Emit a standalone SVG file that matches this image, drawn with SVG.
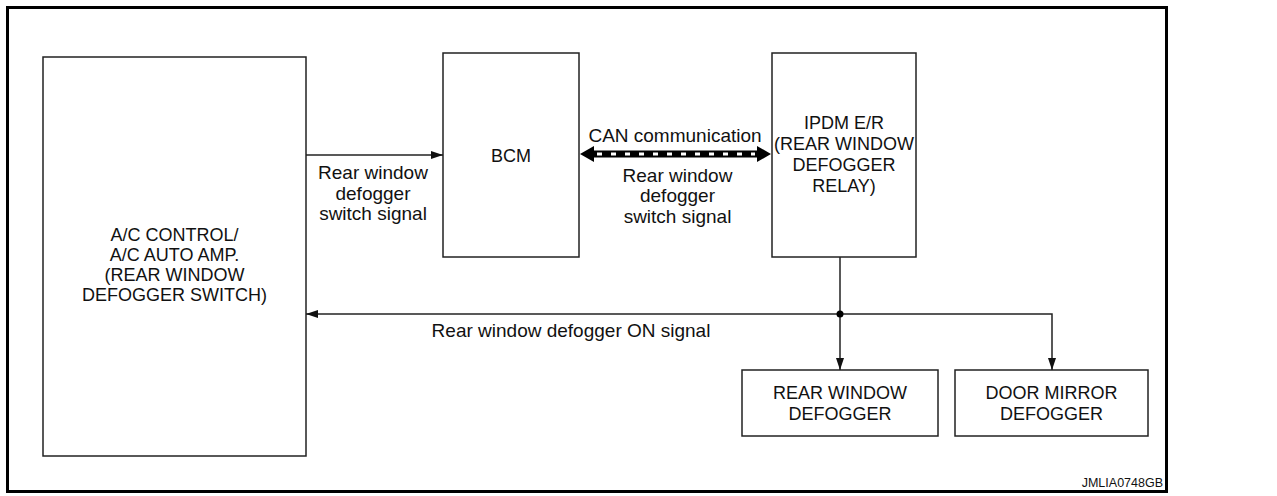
<svg xmlns="http://www.w3.org/2000/svg" width="1277" height="496" viewBox="0 0 1277 496">
<style>
.box{fill:#fff;stroke:#222;stroke-width:1.5}
.up{font-family:"Liberation Sans",Arial,sans-serif;font-size:18px;fill:#111;text-anchor:middle}
.lo{font-family:"Liberation Sans",Arial,sans-serif;font-size:19px;fill:#111;text-anchor:middle}
.wire{fill:none;stroke:#222;stroke-width:1.5}
</style>
<defs>
<marker id="arr" viewBox="0 0 12 8" refX="12" refY="4" markerWidth="12" markerHeight="8" markerUnits="userSpaceOnUse" orient="auto">
<path d="M0,0 L12,4 L0,8 z" fill="#111"/>
</marker>
</defs>
<rect x="0" y="0" width="1277" height="496" fill="#fff"/>
<rect id="frame" x="7.5" y="7.5" width="1159" height="484" fill="none" stroke="#000" stroke-width="3"/>
<g id="ac">
<rect class="box" x="43" y="57" width="263" height="399"/>
<text class="up" x="174.5" y="241">A/C CONTROL/</text>
<text class="up" x="174.5" y="261">A/C AUTO AMP.</text>
<text class="up" x="174.5" y="281">(REAR WINDOW</text>
<text class="up" x="174.5" y="301">DEFOGGER SWITCH)</text>
</g>
<g id="bcm">
<rect class="box" x="443" y="53" width="136" height="204"/>
<text class="up" x="511" y="162">BCM</text>
</g>
<g id="ipdm">
<rect class="box" x="772" y="53" width="144" height="204"/>
<text class="up" x="844" y="129">IPDM E/R</text>
<text class="up" x="844" y="150">(REAR WINDOW</text>
<text class="up" x="844" y="171">DEFOGGER</text>
<text class="up" x="844" y="192">RELAY)</text>
</g>
<g id="rwd">
<rect class="box" x="742" y="370" width="196" height="66"/>
<text class="up" x="840" y="399">REAR WINDOW</text>
<text class="up" x="840" y="420">DEFOGGER</text>
</g>
<g id="dmd">
<rect class="box" x="955" y="370" width="193" height="66"/>
<text class="up" x="1051.5" y="399">DOOR MIRROR</text>
<text class="up" x="1051.5" y="420">DEFOGGER</text>
</g>
<g id="connectors">
<line class="wire" x1="306" y1="155" x2="443" y2="155" marker-end="url(#arr)"/>
<line x1="592" y1="154" x2="759" y2="154" stroke="#000" stroke-width="7"/>
<line x1="597" y1="154" x2="755" y2="154" stroke="#fff" stroke-width="3" stroke-dasharray="5 9"/>
<polygon points="580,154 594,146 594,162" fill="#000"/>
<polygon points="771,154 757,146 757,162" fill="#000"/>
<line class="wire" x1="840" y1="257" x2="840" y2="370" marker-end="url(#arr)"/>
<line class="wire" x1="840" y1="314" x2="306" y2="314" marker-end="url(#arr)"/>
<polyline class="wire" points="840,314 1052,314 1052,370" marker-end="url(#arr)"/>
<circle cx="840" cy="314" r="3.5" fill="#000"/>
</g>
<g id="labels">
<text class="lo" x="373" y="179">Rear window</text>
<text class="lo" x="373" y="199.5">defogger</text>
<text class="lo" x="373" y="220">switch signal</text>
<text class="lo" x="675" y="142">CAN communication</text>
<text class="lo" x="677.5" y="181.5">Rear window</text>
<text class="lo" x="677.5" y="202">defogger</text>
<text class="lo" x="677.5" y="222.5">switch signal</text>
<text class="lo" x="571" y="337">Rear window defogger ON signal</text>
<text x="1163" y="487" font-family="'Liberation Sans',Arial,sans-serif" font-size="12.5" fill="#111" text-anchor="end">JMLIA0748GB</text>
</g>
</svg>
